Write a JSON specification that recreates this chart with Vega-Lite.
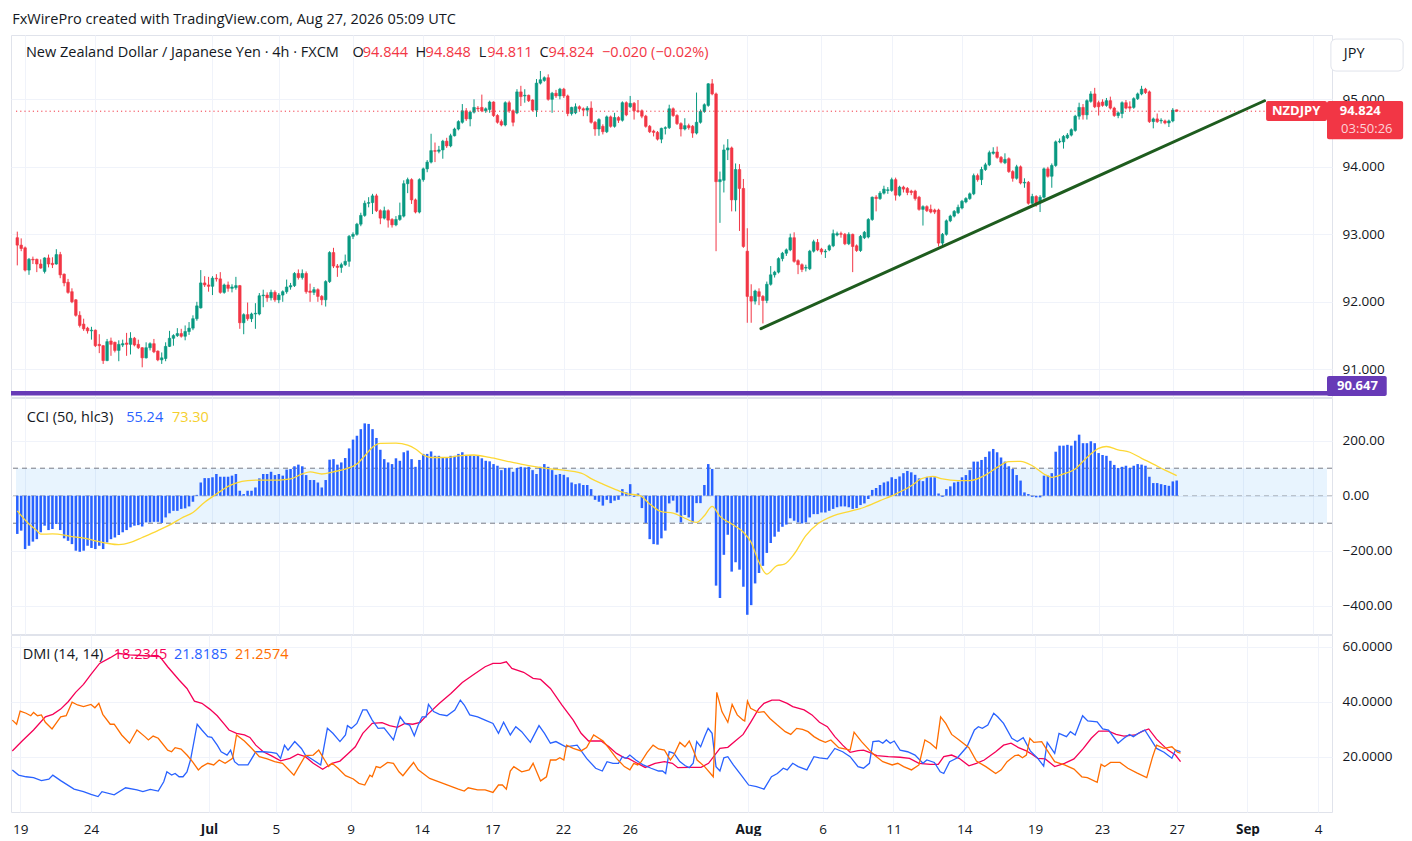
{
"$schema": "https://vega.github.io/schema/vega-lite/v6.json",
"background": "#ffffff",
"padding": {"left": 8, "top": 12, "right": 0, "bottom": 0},
"title": {"text": "FxWirePro created with TradingView.com, Aug 27, 2026 05:09 UTC", "anchor": "start", "font": "Open Sans", "fontSize": 14.5, "fontWeight": "normal", "color": "#131722", "offset": 7, "dx": 4},
"spacing": -1.5,
"config": {
  "view": {"stroke": "#E0E3EB"},
  "font": "Open Sans",
  "axis": {"gridColor": "#F0F3FA", "gridWidth": 1, "labelFont": "Open Sans", "labelFontSize": 13.5, "labelColor": "#131722", "ticks": false, "domain": false, "zindex": 0}
},
"datasets": {
"candles": [
{"i":0,"o":92.95,"h":93.04,"l":92.54,"c":92.84,"k":-139},
{"i":1,"o":92.84,"h":92.94,"l":92.75,"c":92.79,"k":-127},
{"i":2,"o":92.80,"h":92.82,"l":92.45,"c":92.47,"k":-194},
{"i":3,"o":92.47,"h":92.65,"l":92.40,"c":92.63,"k":-182},
{"i":4,"o":92.63,"h":92.67,"l":92.56,"c":92.62,"k":-167},
{"i":5,"o":92.63,"h":92.64,"l":92.44,"c":92.56,"k":-158},
{"i":6,"o":92.56,"h":92.63,"l":92.49,"c":92.50,"k":-133},
{"i":7,"o":92.45,"h":92.66,"l":92.42,"c":92.65,"k":-109},
{"i":8,"o":92.65,"h":92.70,"l":92.51,"c":92.56,"k":-125},
{"i":9,"o":92.57,"h":92.66,"l":92.50,"c":92.55,"k":-121},
{"i":10,"o":92.56,"h":92.78,"l":92.55,"c":92.70,"k":-103},
{"i":11,"o":92.70,"h":92.74,"l":92.35,"c":92.40,"k":-125},
{"i":12,"o":92.41,"h":92.42,"l":92.23,"c":92.28,"k":-155},
{"i":13,"o":92.29,"h":92.34,"l":92.12,"c":92.14,"k":-164},
{"i":14,"o":92.15,"h":92.20,"l":91.98,"c":92.00,"k":-176},
{"i":15,"o":92.03,"h":92.04,"l":91.78,"c":91.80,"k":-200},
{"i":16,"o":91.80,"h":91.86,"l":91.62,"c":91.65,"k":-204},
{"i":17,"o":91.67,"h":91.75,"l":91.57,"c":91.60,"k":-200},
{"i":18,"o":91.61,"h":91.63,"l":91.53,"c":91.57,"k":-182},
{"i":19,"o":91.57,"h":91.63,"l":91.44,"c":91.58,"k":-190},
{"i":20,"o":91.58,"h":91.59,"l":91.33,"c":91.35,"k":-194},
{"i":21,"o":91.37,"h":91.52,"l":91.24,"c":91.35,"k":-182},
{"i":22,"o":91.35,"h":91.36,"l":91.08,"c":91.13,"k":-194},
{"i":23,"o":91.13,"h":91.45,"l":91.12,"c":91.41,"k":-170},
{"i":24,"o":91.42,"h":91.47,"l":91.20,"c":91.37,"k":-158},
{"i":25,"o":91.40,"h":91.41,"l":91.25,"c":91.28,"k":-152},
{"i":26,"o":91.28,"h":91.43,"l":91.12,"c":91.37,"k":-143},
{"i":27,"o":91.36,"h":91.44,"l":91.33,"c":91.38,"k":-133},
{"i":28,"o":91.39,"h":91.54,"l":91.20,"c":91.37,"k":-125},
{"i":29,"o":91.37,"h":91.55,"l":91.22,"c":91.46,"k":-115},
{"i":30,"o":91.46,"h":91.48,"l":91.34,"c":91.36,"k":-109},
{"i":31,"o":91.37,"h":91.44,"l":91.30,"c":91.32,"k":-107},
{"i":32,"o":91.32,"h":91.33,"l":91.03,"c":91.17,"k":-112},
{"i":33,"o":91.17,"h":91.40,"l":91.16,"c":91.32,"k":-97},
{"i":34,"o":91.32,"h":91.40,"l":91.28,"c":91.38,"k":-97},
{"i":35,"o":91.38,"h":91.45,"l":91.24,"c":91.26,"k":-95},
{"i":36,"o":91.27,"h":91.28,"l":91.12,"c":91.14,"k":-95},
{"i":37,"o":91.14,"h":91.25,"l":91.08,"c":91.17,"k":-99},
{"i":38,"o":91.16,"h":91.40,"l":91.12,"c":91.34,"k":-79},
{"i":39,"o":91.34,"h":91.57,"l":91.33,"c":91.46,"k":-64},
{"i":40,"o":91.46,"h":91.52,"l":91.35,"c":91.50,"k":-55},
{"i":41,"o":91.50,"h":91.61,"l":91.48,"c":91.53,"k":-55},
{"i":42,"o":91.53,"h":91.60,"l":91.47,"c":91.49,"k":-48},
{"i":43,"o":91.49,"h":91.65,"l":91.43,"c":91.56,"k":-46},
{"i":44,"o":91.56,"h":91.70,"l":91.51,"c":91.61,"k":-39},
{"i":45,"o":91.61,"h":91.80,"l":91.58,"c":91.75,"k":-22},
{"i":46,"o":91.75,"h":92.00,"l":91.72,"c":91.94,"k":3},
{"i":47,"o":91.91,"h":92.47,"l":91.90,"c":92.28,"k":48},
{"i":48,"o":92.28,"h":92.38,"l":92.22,"c":92.25,"k":64},
{"i":49,"o":92.25,"h":92.37,"l":92.15,"c":92.23,"k":64},
{"i":50,"o":92.23,"h":92.38,"l":92.10,"c":92.35,"k":67},
{"i":51,"o":92.35,"h":92.41,"l":92.30,"c":92.34,"k":79},
{"i":52,"o":92.34,"h":92.44,"l":92.12,"c":92.14,"k":69},
{"i":53,"o":92.14,"h":92.27,"l":92.12,"c":92.25,"k":69},
{"i":54,"o":92.25,"h":92.30,"l":92.15,"c":92.20,"k":69},
{"i":55,"o":92.20,"h":92.26,"l":92.14,"c":92.22,"k":73},
{"i":56,"o":92.21,"h":92.37,"l":92.18,"c":92.24,"k":79},
{"i":57,"o":92.24,"h":92.25,"l":91.60,"c":91.69,"k":18},
{"i":58,"o":91.69,"h":91.83,"l":91.52,"c":91.81,"k":6},
{"i":59,"o":91.81,"h":91.99,"l":91.72,"c":91.75,"k":18},
{"i":60,"o":91.75,"h":91.84,"l":91.70,"c":91.82,"k":18},
{"i":61,"o":91.82,"h":91.98,"l":91.60,"c":91.83,"k":30},
{"i":62,"o":91.82,"h":92.13,"l":91.80,"c":92.09,"k":63},
{"i":63,"o":92.09,"h":92.18,"l":91.92,"c":92.10,"k":79},
{"i":64,"o":92.10,"h":92.14,"l":92.00,"c":92.06,"k":79},
{"i":65,"o":92.06,"h":92.18,"l":92.02,"c":92.14,"k":87},
{"i":66,"o":92.14,"h":92.17,"l":92.00,"c":92.03,"k":75},
{"i":67,"o":92.03,"h":92.13,"l":91.98,"c":92.10,"k":79},
{"i":68,"o":92.10,"h":92.17,"l":92.00,"c":92.15,"k":73},
{"i":69,"o":92.15,"h":92.33,"l":92.12,"c":92.22,"k":95},
{"i":70,"o":92.22,"h":92.28,"l":92.18,"c":92.24,"k":97},
{"i":71,"o":92.24,"h":92.44,"l":92.22,"c":92.42,"k":107},
{"i":72,"o":92.42,"h":92.48,"l":92.33,"c":92.36,"k":113},
{"i":73,"o":92.36,"h":92.48,"l":92.33,"c":92.42,"k":107},
{"i":74,"o":92.42,"h":92.45,"l":92.12,"c":92.15,"k":75},
{"i":75,"o":92.16,"h":92.27,"l":92.00,"c":92.14,"k":57},
{"i":76,"o":92.14,"h":92.22,"l":92.10,"c":92.18,"k":57},
{"i":77,"o":92.18,"h":92.20,"l":92.00,"c":92.08,"k":48},
{"i":78,"o":92.08,"h":92.10,"l":91.95,"c":92.03,"k":30},
{"i":79,"o":92.03,"h":92.32,"l":91.93,"c":92.30,"k":57},
{"i":80,"o":92.30,"h":92.75,"l":92.28,"c":92.73,"k":131},
{"i":81,"o":92.73,"h":92.80,"l":92.50,"c":92.53,"k":133},
{"i":82,"o":92.53,"h":92.56,"l":92.37,"c":92.51,"k":113},
{"i":83,"o":92.51,"h":92.58,"l":92.43,"c":92.55,"k":121},
{"i":84,"o":92.55,"h":92.70,"l":92.53,"c":92.60,"k":137},
{"i":85,"o":92.60,"h":92.99,"l":92.52,"c":92.97,"k":172},
{"i":86,"o":92.97,"h":93.03,"l":92.93,"c":93.00,"k":204},
{"i":87,"o":93.00,"h":93.17,"l":92.98,"c":93.15,"k":218},
{"i":88,"o":93.15,"h":93.32,"l":93.12,"c":93.28,"k":242},
{"i":89,"o":93.28,"h":93.50,"l":93.26,"c":93.46,"k":263},
{"i":90,"o":93.46,"h":93.55,"l":93.40,"c":93.47,"k":261},
{"i":91,"o":93.47,"h":93.60,"l":93.30,"c":93.57,"k":242},
{"i":92,"o":93.57,"h":93.60,"l":93.33,"c":93.35,"k":210},
{"i":93,"o":93.35,"h":93.37,"l":93.15,"c":93.24,"k":167},
{"i":94,"o":93.24,"h":93.41,"l":93.22,"c":93.35,"k":133},
{"i":95,"o":93.35,"h":93.37,"l":93.10,"c":93.21,"k":121},
{"i":96,"o":93.22,"h":93.24,"l":93.10,"c":93.14,"k":115},
{"i":97,"o":93.14,"h":93.27,"l":93.12,"c":93.22,"k":136},
{"i":98,"o":93.22,"h":93.47,"l":93.20,"c":93.28,"k":127},
{"i":99,"o":93.27,"h":93.80,"l":93.25,"c":93.75,"k":158},
{"i":100,"o":93.75,"h":93.84,"l":93.61,"c":93.81,"k":164},
{"i":101,"o":93.81,"h":93.83,"l":93.45,"c":93.51,"k":133},
{"i":102,"o":93.51,"h":93.53,"l":93.31,"c":93.33,"k":105},
{"i":103,"o":93.33,"h":93.83,"l":93.31,"c":93.81,"k":130},
{"i":104,"o":93.81,"h":93.99,"l":93.78,"c":93.97,"k":152},
{"i":105,"o":93.97,"h":94.10,"l":93.92,"c":94.07,"k":152},
{"i":106,"o":94.07,"h":94.49,"l":94.05,"c":94.24,"k":161},
{"i":107,"o":94.24,"h":94.36,"l":94.07,"c":94.23,"k":145},
{"i":108,"o":94.23,"h":94.31,"l":94.20,"c":94.25,"k":145},
{"i":109,"o":94.25,"h":94.40,"l":94.12,"c":94.38,"k":139},
{"i":110,"o":94.38,"h":94.43,"l":94.28,"c":94.31,"k":139},
{"i":111,"o":94.31,"h":94.49,"l":94.29,"c":94.46,"k":145},
{"i":112,"o":94.46,"h":94.58,"l":94.45,"c":94.56,"k":145},
{"i":113,"o":94.56,"h":94.69,"l":94.54,"c":94.67,"k":152},
{"i":114,"o":94.66,"h":94.93,"l":94.64,"c":94.83,"k":158},
{"i":115,"o":94.83,"h":94.87,"l":94.68,"c":94.71,"k":145},
{"i":116,"o":94.71,"h":94.83,"l":94.60,"c":94.81,"k":148},
{"i":117,"o":94.81,"h":95.00,"l":94.79,"c":94.88,"k":145},
{"i":118,"o":94.87,"h":94.90,"l":94.82,"c":94.86,"k":148},
{"i":119,"o":94.88,"h":95.07,"l":94.81,"c":94.83,"k":136},
{"i":120,"o":94.83,"h":94.88,"l":94.80,"c":94.86,"k":127},
{"i":121,"o":94.85,"h":94.98,"l":94.80,"c":94.96,"k":125},
{"i":122,"o":94.96,"h":94.97,"l":94.74,"c":94.76,"k":115},
{"i":123,"o":94.76,"h":94.78,"l":94.64,"c":94.66,"k":109},
{"i":124,"o":94.67,"h":94.70,"l":94.60,"c":94.62,"k":93},
{"i":125,"o":94.62,"h":94.97,"l":94.60,"c":94.95,"k":101},
{"i":126,"o":94.95,"h":94.98,"l":94.80,"c":94.83,"k":101},
{"i":127,"o":94.83,"h":94.85,"l":94.60,"c":94.66,"k":87},
{"i":128,"o":94.80,"h":95.15,"l":94.78,"c":95.11,"k":101},
{"i":129,"o":95.11,"h":95.20,"l":94.90,"c":95.04,"k":105},
{"i":130,"o":95.05,"h":95.15,"l":94.95,"c":95.06,"k":103},
{"i":131,"o":95.06,"h":95.07,"l":94.96,"c":94.98,"k":105},
{"i":132,"o":94.99,"h":95.00,"l":94.82,"c":94.84,"k":93},
{"i":133,"o":94.84,"h":95.30,"l":94.74,"c":95.24,"k":79},
{"i":134,"o":95.24,"h":95.42,"l":95.22,"c":95.29,"k":105},
{"i":135,"o":95.28,"h":95.34,"l":95.26,"c":95.32,"k":115},
{"i":136,"o":95.32,"h":95.37,"l":94.98,"c":95.00,"k":105},
{"i":137,"o":95.00,"h":95.11,"l":94.80,"c":95.09,"k":93},
{"i":138,"o":95.09,"h":95.14,"l":95.02,"c":95.05,"k":76},
{"i":139,"o":95.05,"h":95.17,"l":95.00,"c":95.15,"k":79},
{"i":140,"o":95.15,"h":95.17,"l":95.02,"c":95.05,"k":76},
{"i":141,"o":95.05,"h":95.07,"l":94.75,"c":94.79,"k":67},
{"i":142,"o":94.79,"h":94.89,"l":94.76,"c":94.88,"k":48},
{"i":143,"o":94.80,"h":94.94,"l":94.78,"c":94.89,"k":42},
{"i":144,"o":94.89,"h":94.91,"l":94.83,"c":94.86,"k":45},
{"i":145,"o":94.86,"h":94.88,"l":94.75,"c":94.84,"k":39},
{"i":146,"o":94.84,"h":94.90,"l":94.75,"c":94.87,"k":39},
{"i":147,"o":94.87,"h":94.97,"l":94.64,"c":94.66,"k":24},
{"i":148,"o":94.66,"h":94.68,"l":94.46,"c":94.56,"k":-15},
{"i":149,"o":94.56,"h":94.72,"l":94.46,"c":94.70,"k":-22},
{"i":150,"o":94.60,"h":94.63,"l":94.48,"c":94.52,"k":-36},
{"i":151,"o":94.52,"h":94.76,"l":94.50,"c":94.74,"k":-15},
{"i":152,"o":94.74,"h":94.76,"l":94.58,"c":94.60,"k":-27},
{"i":153,"o":94.60,"h":94.80,"l":94.58,"c":94.73,"k":-18},
{"i":154,"o":94.73,"h":94.75,"l":94.65,"c":94.69,"k":-15},
{"i":155,"o":94.69,"h":94.97,"l":94.67,"c":94.95,"k":24},
{"i":156,"o":94.95,"h":94.97,"l":94.75,"c":94.77,"k":12},
{"i":157,"o":94.89,"h":95.05,"l":94.87,"c":94.94,"k":42},
{"i":158,"o":94.94,"h":94.96,"l":94.70,"c":94.83,"k":-4},
{"i":159,"o":94.83,"h":94.99,"l":94.80,"c":94.82,"k":8},
{"i":160,"o":94.83,"h":94.85,"l":94.72,"c":94.75,"k":-45},
{"i":161,"o":94.75,"h":94.77,"l":94.58,"c":94.60,"k":-99},
{"i":162,"o":94.60,"h":94.62,"l":94.50,"c":94.52,"k":-158},
{"i":163,"o":94.53,"h":94.55,"l":94.45,"c":94.51,"k":-176},
{"i":164,"o":94.51,"h":94.53,"l":94.39,"c":94.41,"k":-178},
{"i":165,"o":94.41,"h":94.58,"l":94.35,"c":94.57,"k":-155},
{"i":166,"o":94.57,"h":94.60,"l":94.48,"c":94.58,"k":-127},
{"i":167,"o":94.58,"h":94.92,"l":94.56,"c":94.86,"k":-28},
{"i":168,"o":94.86,"h":94.88,"l":94.74,"c":94.76,"k":-18},
{"i":169,"o":94.76,"h":94.78,"l":94.62,"c":94.64,"k":-61},
{"i":170,"o":94.64,"h":94.66,"l":94.45,"c":94.56,"k":-97},
{"i":171,"o":94.56,"h":94.72,"l":94.54,"c":94.61,"k":-70},
{"i":172,"o":94.61,"h":94.64,"l":94.55,"c":94.58,"k":-79},
{"i":173,"o":94.60,"h":94.62,"l":94.43,"c":94.50,"k":-97},
{"i":174,"o":94.50,"h":95.10,"l":94.48,"c":94.66,"k":-27},
{"i":175,"o":94.66,"h":94.85,"l":94.64,"c":94.82,"k":-27},
{"i":176,"o":94.82,"h":94.94,"l":94.80,"c":94.92,"k":39},
{"i":177,"o":94.91,"h":95.24,"l":94.89,"c":95.23,"k":115},
{"i":178,"o":95.23,"h":95.30,"l":95.06,"c":95.08,"k":97},
{"i":179,"o":95.08,"h":95.10,"l":92.75,"c":93.78,"k":-327},
{"i":180,"o":93.78,"h":93.93,"l":93.17,"c":93.81,"k":-372},
{"i":181,"o":93.80,"h":94.33,"l":93.62,"c":94.25,"k":-215},
{"i":182,"o":94.25,"h":94.41,"l":94.10,"c":94.28,"k":-142},
{"i":183,"o":94.28,"h":94.30,"l":93.34,"c":93.51,"k":-276},
{"i":184,"o":93.51,"h":94.05,"l":93.34,"c":93.96,"k":-242},
{"i":185,"o":93.96,"h":94.04,"l":93.05,"c":93.68,"k":-269},
{"i":186,"o":93.68,"h":93.82,"l":92.80,"c":92.82,"k":-331},
{"i":187,"o":92.75,"h":93.09,"l":91.69,"c":92.08,"k":-433},
{"i":188,"o":92.08,"h":92.26,"l":91.69,"c":92.01,"k":-398},
{"i":189,"o":92.01,"h":92.18,"l":91.96,"c":92.16,"k":-319},
{"i":190,"o":92.15,"h":92.20,"l":91.95,"c":92.08,"k":-281},
{"i":191,"o":92.08,"h":92.10,"l":91.68,"c":92.02,"k":-255},
{"i":192,"o":92.02,"h":92.30,"l":91.98,"c":92.26,"k":-208},
{"i":193,"o":92.26,"h":92.53,"l":92.24,"c":92.40,"k":-172},
{"i":194,"o":92.40,"h":92.46,"l":92.36,"c":92.44,"k":-149},
{"i":195,"o":92.44,"h":92.66,"l":92.42,"c":92.64,"k":-131},
{"i":196,"o":92.64,"h":92.74,"l":92.60,"c":92.72,"k":-113},
{"i":197,"o":92.72,"h":92.79,"l":92.68,"c":92.77,"k":-105},
{"i":198,"o":92.77,"h":93.01,"l":92.75,"c":92.95,"k":-82},
{"i":199,"o":92.95,"h":93.03,"l":92.58,"c":92.60,"k":-91},
{"i":200,"o":92.61,"h":92.63,"l":92.41,"c":92.55,"k":-97},
{"i":201,"o":92.55,"h":92.57,"l":92.44,"c":92.48,"k":-101},
{"i":202,"o":92.50,"h":92.55,"l":92.45,"c":92.51,"k":-97},
{"i":203,"o":92.49,"h":92.77,"l":92.47,"c":92.75,"k":-79},
{"i":204,"o":92.75,"h":92.92,"l":92.73,"c":92.89,"k":-67},
{"i":205,"o":92.88,"h":92.93,"l":92.75,"c":92.77,"k":-67},
{"i":206,"o":92.78,"h":92.80,"l":92.70,"c":92.74,"k":-61},
{"i":207,"o":92.74,"h":92.78,"l":92.65,"c":92.75,"k":-61},
{"i":208,"o":92.77,"h":92.85,"l":92.75,"c":92.83,"k":-55},
{"i":209,"o":92.83,"h":93.07,"l":92.81,"c":93.01,"k":-48},
{"i":210,"o":92.99,"h":93.04,"l":92.97,"c":93.01,"k":-42},
{"i":211,"o":93.01,"h":93.04,"l":92.95,"c":93.00,"k":-39},
{"i":212,"o":93.00,"h":93.02,"l":92.84,"c":92.86,"k":-39},
{"i":213,"o":92.86,"h":93.03,"l":92.84,"c":93.00,"k":-42},
{"i":214,"o":93.00,"h":93.01,"l":92.44,"c":92.82,"k":-48},
{"i":215,"o":92.83,"h":92.85,"l":92.74,"c":92.76,"k":-45},
{"i":216,"o":92.76,"h":92.99,"l":92.74,"c":92.97,"k":-34},
{"i":217,"o":92.95,"h":93.05,"l":92.93,"c":93.03,"k":-28},
{"i":218,"o":92.96,"h":93.24,"l":92.94,"c":93.22,"k":-12},
{"i":219,"o":93.22,"h":93.56,"l":93.20,"c":93.55,"k":21},
{"i":220,"o":93.55,"h":93.58,"l":93.34,"c":93.53,"k":28},
{"i":221,"o":93.53,"h":93.64,"l":93.51,"c":93.61,"k":39},
{"i":222,"o":93.61,"h":93.72,"l":93.59,"c":93.67,"k":48},
{"i":223,"o":93.65,"h":93.70,"l":93.60,"c":93.66,"k":52},
{"i":224,"o":93.65,"h":93.84,"l":93.63,"c":93.81,"k":67},
{"i":225,"o":93.81,"h":93.84,"l":93.50,"c":93.58,"k":61},
{"i":226,"o":93.58,"h":93.72,"l":93.56,"c":93.70,"k":70},
{"i":227,"o":93.70,"h":93.72,"l":93.62,"c":93.67,"k":82},
{"i":228,"o":93.68,"h":93.70,"l":93.58,"c":93.62,"k":90},
{"i":229,"o":93.64,"h":93.66,"l":93.58,"c":93.62,"k":85},
{"i":230,"o":93.64,"h":93.66,"l":93.50,"c":93.53,"k":76},
{"i":231,"o":93.55,"h":93.57,"l":93.35,"c":93.37,"k":63},
{"i":232,"o":93.37,"h":93.43,"l":93.13,"c":93.41,"k":53},
{"i":233,"o":93.41,"h":93.43,"l":93.33,"c":93.35,"k":67},
{"i":234,"o":93.37,"h":93.44,"l":93.31,"c":93.33,"k":67},
{"i":235,"o":93.36,"h":93.38,"l":93.30,"c":93.33,"k":67},
{"i":236,"o":93.36,"h":93.38,"l":92.82,"c":92.87,"k":8},
{"i":237,"o":92.87,"h":93.02,"l":92.84,"c":93.00,"k":-4},
{"i":238,"o":93.00,"h":93.22,"l":92.98,"c":93.20,"k":24},
{"i":239,"o":93.20,"h":93.29,"l":93.18,"c":93.27,"k":34},
{"i":240,"o":93.27,"h":93.36,"l":93.25,"c":93.34,"k":48},
{"i":241,"o":93.32,"h":93.44,"l":93.30,"c":93.40,"k":51},
{"i":242,"o":93.39,"h":93.51,"l":93.37,"c":93.49,"k":67},
{"i":243,"o":93.48,"h":93.55,"l":93.46,"c":93.53,"k":75},
{"i":244,"o":93.53,"h":93.62,"l":93.51,"c":93.60,"k":93},
{"i":245,"o":93.60,"h":93.90,"l":93.58,"c":93.87,"k":124},
{"i":246,"o":93.87,"h":93.90,"l":93.78,"c":93.81,"k":124},
{"i":247,"o":93.81,"h":94.00,"l":93.73,"c":93.96,"k":130},
{"i":248,"o":93.96,"h":94.06,"l":93.94,"c":94.03,"k":141},
{"i":249,"o":94.03,"h":94.24,"l":94.01,"c":94.21,"k":161},
{"i":250,"o":94.20,"h":94.29,"l":94.18,"c":94.22,"k":170},
{"i":251,"o":94.22,"h":94.30,"l":94.12,"c":94.14,"k":158},
{"i":252,"o":94.14,"h":94.16,"l":94.05,"c":94.07,"k":139},
{"i":253,"o":94.06,"h":94.20,"l":94.04,"c":94.11,"k":124},
{"i":254,"o":94.12,"h":94.14,"l":93.91,"c":93.93,"k":107},
{"i":255,"o":93.93,"h":93.95,"l":93.78,"c":93.83,"k":97},
{"i":256,"o":93.83,"h":94.03,"l":93.81,"c":94.00,"k":75},
{"i":257,"o":94.00,"h":94.02,"l":93.74,"c":93.76,"k":55},
{"i":258,"o":93.76,"h":93.83,"l":93.69,"c":93.77,"k":12},
{"i":259,"o":93.77,"h":93.79,"l":93.44,"c":93.46,"k":6},
{"i":260,"o":93.46,"h":93.60,"l":93.43,"c":93.56,"k":-4},
{"i":261,"o":93.56,"h":93.58,"l":93.41,"c":93.46,"k":-6},
{"i":262,"o":93.48,"h":93.58,"l":93.33,"c":93.55,"k":-6},
{"i":263,"o":93.55,"h":93.99,"l":93.53,"c":93.97,"k":73},
{"i":264,"o":93.97,"h":94.00,"l":93.84,"c":93.86,"k":73},
{"i":265,"o":93.86,"h":94.05,"l":93.69,"c":94.02,"k":82},
{"i":266,"o":94.02,"h":94.39,"l":94.00,"c":94.37,"k":160},
{"i":267,"o":94.37,"h":94.42,"l":94.35,"c":94.38,"k":182},
{"i":268,"o":94.37,"h":94.47,"l":94.27,"c":94.45,"k":182},
{"i":269,"o":94.43,"h":94.50,"l":94.41,"c":94.47,"k":185},
{"i":270,"o":94.47,"h":94.57,"l":94.45,"c":94.55,"k":182},
{"i":271,"o":94.54,"h":94.77,"l":94.52,"c":94.75,"k":200},
{"i":272,"o":94.75,"h":94.95,"l":94.70,"c":94.88,"k":222},
{"i":273,"o":94.88,"h":94.93,"l":94.70,"c":94.77,"k":191},
{"i":274,"o":94.77,"h":95.00,"l":94.70,"c":94.98,"k":191},
{"i":275,"o":94.97,"h":95.12,"l":94.95,"c":95.08,"k":198},
{"i":276,"o":95.08,"h":95.17,"l":94.87,"c":94.89,"k":191},
{"i":277,"o":94.95,"h":94.98,"l":94.76,"c":94.89,"k":155},
{"i":278,"o":94.96,"h":95.00,"l":94.89,"c":94.91,"k":148},
{"i":279,"o":94.91,"h":95.02,"l":94.89,"c":94.98,"k":145},
{"i":280,"o":94.98,"h":95.04,"l":94.85,"c":94.87,"k":127},
{"i":281,"o":94.87,"h":94.89,"l":94.74,"c":94.76,"k":112},
{"i":282,"o":94.76,"h":94.82,"l":94.72,"c":94.80,"k":101},
{"i":283,"o":94.79,"h":94.97,"l":94.72,"c":94.95,"k":105},
{"i":284,"o":94.95,"h":94.99,"l":94.85,"c":94.87,"k":109},
{"i":285,"o":94.89,"h":94.97,"l":94.83,"c":94.87,"k":101},
{"i":286,"o":94.88,"h":95.03,"l":94.86,"c":95.01,"k":109},
{"i":287,"o":95.01,"h":95.10,"l":94.99,"c":95.08,"k":115},
{"i":288,"o":95.08,"h":95.20,"l":95.06,"c":95.15,"k":113},
{"i":289,"o":95.15,"h":95.17,"l":95.08,"c":95.10,"k":109},
{"i":290,"o":95.11,"h":95.13,"l":94.65,"c":94.67,"k":69},
{"i":291,"o":94.67,"h":94.73,"l":94.57,"c":94.71,"k":46},
{"i":292,"o":94.71,"h":94.79,"l":94.65,"c":94.67,"k":46},
{"i":293,"o":94.68,"h":94.72,"l":94.64,"c":94.69,"k":42},
{"i":294,"o":94.68,"h":94.70,"l":94.63,"c":94.65,"k":39},
{"i":295,"o":94.65,"h":94.70,"l":94.59,"c":94.68,"k":36},
{"i":296,"o":94.68,"h":94.87,"l":94.66,"c":94.84,"k":52},
{"i":297,"o":94.844,"h":94.848,"l":94.811,"c":94.824,"k":55.24}
],
"ma": [
{"i":0,"v":-55},{"i":3,"v":-103},{"i":5,"v":-127},{"i":6,"v":-140},{"i":9,"v":-139},{"i":12,"v":-143},{"i":14,"v":-149},{"i":17,"v":-154},{"i":20,"v":-164},{"i":23,"v":-173},{"i":26,"v":-178},{"i":29,"v":-170},{"i":32,"v":-152},{"i":36,"v":-127},{"i":40,"v":-99},{"i":42,"v":-82},{"i":45,"v":-61},{"i":48,"v":-24},{"i":51,"v":6},{"i":54,"v":34},{"i":56,"v":46},{"i":59,"v":55},{"i":63,"v":57},{"i":67,"v":57},{"i":70,"v":61},{"i":73,"v":79},{"i":75,"v":87},{"i":78,"v":79},{"i":81,"v":87},{"i":84,"v":97},{"i":87,"v":115},{"i":89,"v":145},{"i":91,"v":176},{"i":93,"v":190},{"i":97,"v":191},{"i":100,"v":184},{"i":102,"v":170},{"i":104,"v":148},{"i":106,"v":139},{"i":110,"v":139},{"i":113,"v":145},{"i":117,"v":148},{"i":121,"v":139},{"i":125,"v":127},{"i":129,"v":115},{"i":133,"v":105},{"i":137,"v":97},{"i":141,"v":91},{"i":145,"v":79},{"i":147,"v":62},{"i":150,"v":42},{"i":153,"v":24},{"i":156,"v":8},{"i":159.5,"v":0},{"i":162,"v":-30},{"i":165,"v":-58},{"i":168,"v":-63},{"i":171,"v":-82},{"i":174,"v":-97},{"i":176,"v":-73},{"i":178,"v":-39},{"i":180,"v":-75},{"i":183,"v":-103},{"i":186,"v":-133},{"i":188,"v":-170},{"i":190,"v":-242},{"i":192,"v":-285},{"i":194.5,"v":-255},{"i":196.5,"v":-249},{"i":199,"v":-212},{"i":202,"v":-145},{"i":205,"v":-103},{"i":209,"v":-73},{"i":213,"v":-58},{"i":217,"v":-42},{"i":221,"v":-18},{"i":225,"v":6},{"i":229,"v":36},{"i":231.5,"v":61},{"i":234.5,"v":70},{"i":237,"v":61},{"i":241,"v":55},{"i":244,"v":55},{"i":248,"v":75},{"i":251,"v":103},{"i":254,"v":124},{"i":257,"v":125},{"i":260,"v":109},{"i":263,"v":79},{"i":265,"v":67},{"i":268,"v":79},{"i":271,"v":97},{"i":274,"v":139},{"i":277,"v":172},{"i":279,"v":179},{"i":282,"v":167},{"i":285,"v":158},{"i":288,"v":136},{"i":291,"v":115},{"i":294,"v":93},{"i":297,"v":73.3}
],
"dmi": [
{"s":"a","i":0,"v":22.1},{"s":"a","i":2.5,"v":25.7},{"s":"a","i":5.4,"v":29.7},{"s":"a","i":8.4,"v":34.5},{"s":"a","i":10.3,"v":35.4},{"s":"a","i":12.3,"v":37.3},{"s":"a","i":14.2,"v":40.0},{"s":"a","i":16.1,"v":43.4},{"s":"a","i":18.1,"v":46.3},{"s":"a","i":20,"v":49.9},{"s":"a","i":22.2,"v":53.9},{"s":"a","i":24.9,"v":56.0},{"s":"a","i":26.8,"v":57.6},{"s":"a","i":29.8,"v":57.0},{"s":"a","i":33.7,"v":56.7},{"s":"a","i":37.5,"v":56.4},{"s":"a","i":39.5,"v":52.7},{"s":"a","i":42.4,"v":47.9},{"s":"a","i":44.4,"v":44.8},{"s":"a","i":46.3,"v":40.2},{"s":"a","i":48.2,"v":39.4},{"s":"a","i":50.2,"v":37.3},{"s":"a","i":52.1,"v":34.9},{"s":"a","i":54.1,"v":31.5},{"s":"a","i":55.1,"v":29.7},{"s":"a","i":57,"v":28.5},{"s":"a","i":59,"v":27.9},{"s":"a","i":60.4,"v":27.0},{"s":"a","i":61.9,"v":24.2},{"s":"a","i":63.8,"v":21.8},{"s":"a","i":65.8,"v":20.4},{"s":"a","i":68.2,"v":18.5},{"s":"a","i":70.6,"v":19.4},{"s":"a","i":72.6,"v":20.9},{"s":"a","i":74.5,"v":20.0},{"s":"a","i":76.5,"v":17.6},{"s":"a","i":78.9,"v":15.4},{"s":"a","i":81.3,"v":17.6},{"s":"a","i":83.3,"v":18.4},{"s":"a","i":85.2,"v":20.9},{"s":"a","i":87.2,"v":23.6},{"s":"a","i":89.1,"v":28.5},{"s":"a","i":91.5,"v":32.1},{"s":"a","i":94,"v":32.4},{"s":"a","i":95.9,"v":31.3},{"s":"a","i":97.9,"v":30.7},{"s":"a","i":99.8,"v":32.1},{"s":"a","i":101.8,"v":31.8},{"s":"a","i":103.7,"v":32.5},{"s":"a","i":105.6,"v":35.4},{"s":"a","i":108.6,"v":39.4},{"s":"a","i":111.5,"v":43.0},{"s":"a","i":114.4,"v":47.0},{"s":"a","i":117.3,"v":49.9},{"s":"a","i":120.2,"v":52.7},{"s":"a","i":122.2,"v":53.9},{"s":"a","i":124.1,"v":53.9},{"s":"a","i":125.6,"v":54.5},{"s":"a","i":127,"v":52.1},{"s":"a","i":130,"v":50.7},{"s":"a","i":132.4,"v":48.5},{"s":"a","i":134.3,"v":48.1},{"s":"a","i":136.8,"v":44.8},{"s":"a","i":139.7,"v":38.8},{"s":"a","i":142.6,"v":33.3},{"s":"a","i":144.6,"v":28.5},{"s":"a","i":146.5,"v":25.7},{"s":"a","i":149.7,"v":25.7},{"s":"a","i":151.7,"v":23.6},{"s":"a","i":153.6,"v":21.2},{"s":"a","i":155.6,"v":19.6},{"s":"a","i":156.6,"v":19.4},{"s":"a","i":158.5,"v":17.9},{"s":"a","i":160.9,"v":16.1},{"s":"a","i":163.4,"v":17.6},{"s":"a","i":165.8,"v":18.2},{"s":"a","i":167.8,"v":17.6},{"s":"a","i":169.2,"v":16.0},{"s":"a","i":172.1,"v":16.1},{"s":"a","i":175.1,"v":16.1},{"s":"a","i":177,"v":17.6},{"s":"a","i":179.9,"v":23.0},{"s":"a","i":181.9,"v":23.4},{"s":"a","i":183.8,"v":25.7},{"s":"a","i":185.8,"v":28.1},{"s":"a","i":187.7,"v":32.5},{"s":"a","i":189.7,"v":37.3},{"s":"a","i":191.1,"v":39.4},{"s":"a","i":193.1,"v":40.6},{"s":"a","i":195,"v":40.6},{"s":"a","i":197,"v":39.4},{"s":"a","i":198.4,"v":38.2},{"s":"a","i":201.3,"v":37.0},{"s":"a","i":203.3,"v":35.2},{"s":"a","i":205.2,"v":32.5},{"s":"a","i":207.2,"v":30.9},{"s":"a","i":209.1,"v":27.3},{"s":"a","i":211.1,"v":24.2},{"s":"a","i":213,"v":21.6},{"s":"a","i":215,"v":22.2},{"s":"a","i":216.4,"v":22.4},{"s":"a","i":217.9,"v":21.6},{"s":"a","i":219.8,"v":20.4},{"s":"a","i":222.7,"v":20.0},{"s":"a","i":225.7,"v":19.8},{"s":"a","i":228.1,"v":19.4},{"s":"a","i":230.5,"v":17.6},{"s":"a","i":233.4,"v":17.2},{"s":"a","i":235.4,"v":17.2},{"s":"a","i":236.8,"v":20.0},{"s":"a","i":238.8,"v":20.6},{"s":"a","i":240.7,"v":19.4},{"s":"a","i":243.2,"v":16.7},{"s":"a","i":245.1,"v":17.6},{"s":"a","i":247.1,"v":18.8},{"s":"a","i":250,"v":21.8},{"s":"a","i":252,"v":24.2},{"s":"a","i":253.9,"v":24.9},{"s":"a","i":255.8,"v":23.3},{"s":"a","i":257.8,"v":22.1},{"s":"a","i":259.2,"v":20.9},{"s":"a","i":260.7,"v":19.4},{"s":"a","i":262.6,"v":19.2},{"s":"a","i":265,"v":16.4},{"s":"a","i":267.5,"v":17.6},{"s":"a","i":269.9,"v":19.2},{"s":"a","i":272.3,"v":23.0},{"s":"a","i":274.3,"v":26.7},{"s":"a","i":276.2,"v":29.3},{"s":"a","i":278.7,"v":29.3},{"s":"a","i":280.6,"v":28.1},{"s":"a","i":282.6,"v":27.5},{"s":"a","i":285.5,"v":27.9},{"s":"a","i":287.4,"v":29.3},{"s":"a","i":288.9,"v":30.1},{"s":"a","i":290.9,"v":26.4},{"s":"a","i":293.8,"v":22.4},{"s":"a","i":295.7,"v":20.6},{"s":"a","i":297,"v":18.23},
{"s":"p","i":0,"v":15.2},{"s":"p","i":1.6,"v":13.3},{"s":"p","i":3.5,"v":12.7},{"s":"p","i":5.4,"v":12.4},{"s":"p","i":7.4,"v":11.3},{"s":"p","i":9.3,"v":11.8},{"s":"p","i":10.3,"v":13.3},{"s":"p","i":12.3,"v":11.3},{"s":"p","i":15.7,"v":8.2},{"s":"p","i":18.1,"v":7.3},{"s":"p","i":20,"v":6.3},{"s":"p","i":21.8,"v":5.5},{"s":"p","i":22.8,"v":7.3},{"s":"p","i":25.9,"v":6.1},{"s":"p","i":28.8,"v":8.7},{"s":"p","i":31.7,"v":7.9},{"s":"p","i":33.2,"v":7.3},{"s":"p","i":35.1,"v":8.1},{"s":"p","i":37.1,"v":7.5},{"s":"p","i":38.5,"v":10.9},{"s":"p","i":39.3,"v":14.5},{"s":"p","i":40.5,"v":13.3},{"s":"p","i":41.4,"v":13.9},{"s":"p","i":42.4,"v":12.7},{"s":"p","i":43.4,"v":12.7},{"s":"p","i":44.4,"v":14.5},{"s":"p","i":45.3,"v":18.8},{"s":"p","i":47,"v":31.8},{"s":"p","i":48.2,"v":29.7},{"s":"p","i":49.7,"v":27.3},{"s":"p","i":50.7,"v":27.0},{"s":"p","i":52.1,"v":24.2},{"s":"p","i":53.1,"v":21.8},{"s":"p","i":54.6,"v":20.6},{"s":"p","i":55.5,"v":22.4},{"s":"p","i":56.5,"v":18.2},{"s":"p","i":57.5,"v":17.0},{"s":"p","i":59.9,"v":17.0},{"s":"p","i":61.9,"v":21.8},{"s":"p","i":63.8,"v":21.8},{"s":"p","i":65.8,"v":21.6},{"s":"p","i":67.2,"v":21.2},{"s":"p","i":68.2,"v":19.4},{"s":"p","i":69.2,"v":24.2},{"s":"p","i":70.1,"v":22.4},{"s":"p","i":71.8,"v":25.5},{"s":"p","i":73.5,"v":23.0},{"s":"p","i":74.5,"v":20.6},{"s":"p","i":76.5,"v":18.8},{"s":"p","i":78.4,"v":17.0},{"s":"p","i":80.1,"v":30.3},{"s":"p","i":81.5,"v":28.5},{"s":"p","i":83.3,"v":25.5},{"s":"p","i":84.7,"v":27.9},{"s":"p","i":85.2,"v":31.3},{"s":"p","i":86.2,"v":30.3},{"s":"p","i":87.6,"v":32.1},{"s":"p","i":89.1,"v":37.0},{"s":"p","i":90.1,"v":37.0},{"s":"p","i":91.5,"v":33.3},{"s":"p","i":93,"v":30.3},{"s":"p","i":94.5,"v":30.5},{"s":"p","i":96.9,"v":26.1},{"s":"p","i":98.6,"v":34.5},{"s":"p","i":99.8,"v":32.1},{"s":"p","i":101,"v":31.5},{"s":"p","i":102.2,"v":27.6},{"s":"p","i":103.2,"v":31.5},{"s":"p","i":104.2,"v":34.5},{"s":"p","i":105.2,"v":34.5},{"s":"p","i":105.8,"v":39.0},{"s":"p","i":107.1,"v":36.4},{"s":"p","i":108.6,"v":35.4},{"s":"p","i":110.5,"v":34.9},{"s":"p","i":112.5,"v":37.0},{"s":"p","i":113.9,"v":40.6},{"s":"p","i":114.9,"v":38.8},{"s":"p","i":116.3,"v":35.2},{"s":"p","i":118.3,"v":34.5},{"s":"p","i":120.2,"v":33.3},{"s":"p","i":122.2,"v":32.1},{"s":"p","i":123.6,"v":28.5},{"s":"p","i":124.9,"v":32.5},{"s":"p","i":126.6,"v":27.9},{"s":"p","i":128,"v":30.9},{"s":"p","i":129.5,"v":29.1},{"s":"p","i":131.7,"v":25.2},{"s":"p","i":133.9,"v":31.3},{"s":"p","i":135.3,"v":28.5},{"s":"p","i":136.8,"v":24.9},{"s":"p","i":138.2,"v":25.5},{"s":"p","i":140.7,"v":23.6},{"s":"p","i":143.6,"v":24.2},{"s":"p","i":146,"v":19.4},{"s":"p","i":148.3,"v":15.8},{"s":"p","i":150,"v":14.8},{"s":"p","i":151.2,"v":18.2},{"s":"p","i":152.7,"v":17.6},{"s":"p","i":154.1,"v":17.6},{"s":"p","i":155.1,"v":20.0},{"s":"p","i":156.1,"v":19.4},{"s":"p","i":157,"v":20.6},{"s":"p","i":158.5,"v":18.8},{"s":"p","i":160.4,"v":17.0},{"s":"p","i":162.4,"v":15.8},{"s":"p","i":164.3,"v":14.8},{"s":"p","i":165.3,"v":14.8},{"s":"p","i":166.1,"v":13.9},{"s":"p","i":167,"v":21.8},{"s":"p","i":168.2,"v":21.2},{"s":"p","i":169.7,"v":18.2},{"s":"p","i":171.1,"v":16.7},{"s":"p","i":172.1,"v":16.0},{"s":"p","i":173.1,"v":17.6},{"s":"p","i":174,"v":25.5},{"s":"p","i":175,"v":23.6},{"s":"p","i":176,"v":27.3},{"s":"p","i":176.9,"v":30.3},{"s":"p","i":177.9,"v":28.5},{"s":"p","i":178.9,"v":16.4},{"s":"p","i":179.9,"v":14.8},{"s":"p","i":180.9,"v":19.6},{"s":"p","i":181.9,"v":20.0},{"s":"p","i":183.3,"v":17.0},{"s":"p","i":185.3,"v":13.3},{"s":"p","i":187.2,"v":9.7},{"s":"p","i":189.2,"v":9.1},{"s":"p","i":191.1,"v":8.2},{"s":"p","i":193,"v":12.7},{"s":"p","i":194.5,"v":13.9},{"s":"p","i":196,"v":15.8},{"s":"p","i":197,"v":15.2},{"s":"p","i":198.4,"v":17.6},{"s":"p","i":199.8,"v":16.4},{"s":"p","i":202,"v":15.2},{"s":"p","i":203.8,"v":20.0},{"s":"p","i":205.2,"v":19.6},{"s":"p","i":207.2,"v":19.2},{"s":"p","i":209.1,"v":23.0},{"s":"p","i":211.1,"v":21.8},{"s":"p","i":213,"v":20.0},{"s":"p","i":215,"v":16.4},{"s":"p","i":216.4,"v":15.8},{"s":"p","i":217.9,"v":17.6},{"s":"p","i":218.8,"v":25.5},{"s":"p","i":220.3,"v":25.7},{"s":"p","i":221.3,"v":24.9},{"s":"p","i":222.2,"v":26.1},{"s":"p","i":223.2,"v":24.9},{"s":"p","i":224.2,"v":25.7},{"s":"p","i":225.7,"v":22.4},{"s":"p","i":227.6,"v":21.8},{"s":"p","i":229.5,"v":20.6},{"s":"p","i":231.5,"v":17.6},{"s":"p","i":232.5,"v":18.8},{"s":"p","i":234.4,"v":17.9},{"s":"p","i":235.9,"v":14.5},{"s":"p","i":236.8,"v":13.9},{"s":"p","i":238.3,"v":18.2},{"s":"p","i":240.3,"v":19.6},{"s":"p","i":242.7,"v":23.6},{"s":"p","i":244.6,"v":29.7},{"s":"p","i":245.6,"v":30.9},{"s":"p","i":246.6,"v":30.3},{"s":"p","i":248,"v":31.5},{"s":"p","i":249.5,"v":35.8},{"s":"p","i":250.5,"v":34.5},{"s":"p","i":252,"v":32.1},{"s":"p","i":254.1,"v":26.7},{"s":"p","i":255.5,"v":25.5},{"s":"p","i":257,"v":26.9},{"s":"p","i":258.8,"v":22.1},{"s":"p","i":260.7,"v":19.4},{"s":"p","i":262.2,"v":16.6},{"s":"p","i":263.1,"v":25.2},{"s":"p","i":265,"v":21.2},{"s":"p","i":266.1,"v":28.5},{"s":"p","i":268,"v":27.3},{"s":"p","i":269,"v":29.1},{"s":"p","i":270.2,"v":27.9},{"s":"p","i":272.1,"v":34.9},{"s":"p","i":273.4,"v":33.0},{"s":"p","i":275.8,"v":32.7},{"s":"p","i":277.2,"v":30.1},{"s":"p","i":278.7,"v":29.7},{"s":"p","i":281.1,"v":24.9},{"s":"p","i":282.6,"v":26.7},{"s":"p","i":284,"v":28.1},{"s":"p","i":285,"v":27.3},{"s":"p","i":286.5,"v":28.7},{"s":"p","i":287.9,"v":29.7},{"s":"p","i":289.4,"v":26.4},{"s":"p","i":290.9,"v":23.0},{"s":"p","i":292.8,"v":21.6},{"s":"p","i":294.8,"v":19.4},{"s":"p","i":295.7,"v":22.4},{"s":"p","i":297,"v":21.82},
{"s":"m","i":0,"v":33.3},{"s":"m","i":1.1,"v":31.8},{"s":"m","i":2,"v":36.6},{"s":"m","i":3.5,"v":35.8},{"s":"m","i":4.7,"v":34.9},{"s":"m","i":5.4,"v":36.1},{"s":"m","i":6.4,"v":34.9},{"s":"m","i":7.4,"v":35.2},{"s":"m","i":8.4,"v":32.5},{"s":"m","i":10.1,"v":30.1},{"s":"m","i":11.3,"v":32.5},{"s":"m","i":12.3,"v":34.5},{"s":"m","i":13.7,"v":34.9},{"s":"m","i":15.2,"v":39.8},{"s":"m","i":16.6,"v":38.8},{"s":"m","i":18.1,"v":38.2},{"s":"m","i":20,"v":39.0},{"s":"m","i":21,"v":37.8},{"s":"m","i":22,"v":39.4},{"s":"m","i":23,"v":35.4},{"s":"m","i":24.9,"v":31.8},{"s":"m","i":25.9,"v":31.8},{"s":"m","i":27.8,"v":27.9},{"s":"m","i":29.8,"v":24.9},{"s":"m","i":31.7,"v":29.7},{"s":"m","i":33.7,"v":27.3},{"s":"m","i":34.6,"v":26.1},{"s":"m","i":35.8,"v":27.5},{"s":"m","i":37.1,"v":26.7},{"s":"m","i":39.5,"v":22.4},{"s":"m","i":40.5,"v":21.8},{"s":"m","i":41.4,"v":23.3},{"s":"m","i":42.9,"v":22.8},{"s":"m","i":44.4,"v":20.6},{"s":"m","i":45.8,"v":18.2},{"s":"m","i":47.3,"v":15.2},{"s":"m","i":48.2,"v":16.4},{"s":"m","i":49.7,"v":17.6},{"s":"m","i":51.2,"v":17.0},{"s":"m","i":52.6,"v":18.8},{"s":"m","i":54.1,"v":17.6},{"s":"m","i":56,"v":19.4},{"s":"m","i":57,"v":27.9},{"s":"m","i":59,"v":25.7},{"s":"m","i":60.9,"v":23.0},{"s":"m","i":62.8,"v":20.0},{"s":"m","i":64.8,"v":19.2},{"s":"m","i":66.7,"v":18.2},{"s":"m","i":68.7,"v":17.6},{"s":"m","i":71.6,"v":13.3},{"s":"m","i":74.5,"v":20.4},{"s":"m","i":76.5,"v":20.6},{"s":"m","i":77.9,"v":22.4},{"s":"m","i":79.4,"v":18.8},{"s":"m","i":80.4,"v":16.4},{"s":"m","i":81.3,"v":17.6},{"s":"m","i":82.8,"v":15.8},{"s":"m","i":84.7,"v":13.1},{"s":"m","i":86.7,"v":11.9},{"s":"m","i":88.1,"v":10.3},{"s":"m","i":89.6,"v":9.7},{"s":"m","i":90.9,"v":13.3},{"s":"m","i":91.5,"v":12.7},{"s":"m","i":92.5,"v":16.4},{"s":"m","i":93.5,"v":16.0},{"s":"m","i":95.4,"v":17.9},{"s":"m","i":96.9,"v":17.6},{"s":"m","i":98.3,"v":14.5},{"s":"m","i":99.3,"v":13.1},{"s":"m","i":100.8,"v":15.8},{"s":"m","i":102,"v":17.9},{"s":"m","i":103.2,"v":15.2},{"s":"m","i":106.1,"v":12.1},{"s":"m","i":109.5,"v":10.3},{"s":"m","i":113.4,"v":8.2},{"s":"m","i":114.9,"v":7.5},{"s":"m","i":115.9,"v":8.7},{"s":"m","i":118.3,"v":7.9},{"s":"m","i":120.2,"v":7.9},{"s":"m","i":122.2,"v":7.0},{"s":"m","i":123.6,"v":9.7},{"s":"m","i":124.6,"v":9.7},{"s":"m","i":125.6,"v":8.2},{"s":"m","i":126.6,"v":14.8},{"s":"m","i":127.5,"v":16.4},{"s":"m","i":129.5,"v":14.5},{"s":"m","i":131.4,"v":15.2},{"s":"m","i":132.4,"v":17.6},{"s":"m","i":134.3,"v":11.2},{"s":"m","i":135.8,"v":12.7},{"s":"m","i":136.8,"v":18.8},{"s":"m","i":138.2,"v":18.8},{"s":"m","i":139.2,"v":19.6},{"s":"m","i":140.2,"v":18.8},{"s":"m","i":140.9,"v":24.2},{"s":"m","i":142.6,"v":23.0},{"s":"m","i":144.6,"v":22.1},{"s":"m","i":146,"v":23.3},{"s":"m","i":147.8,"v":27.9},{"s":"m","i":150.2,"v":25.7},{"s":"m","i":151.7,"v":23.0},{"s":"m","i":153.6,"v":19.4},{"s":"m","i":155.6,"v":16.4},{"s":"m","i":157,"v":15.2},{"s":"m","i":158,"v":17.6},{"s":"m","i":159,"v":17.0},{"s":"m","i":159.9,"v":18.2},{"s":"m","i":161.4,"v":21.6},{"s":"m","i":162.9,"v":24.2},{"s":"m","i":164.3,"v":22.8},{"s":"m","i":165.8,"v":22.4},{"s":"m","i":167.3,"v":18.8},{"s":"m","i":168.2,"v":20.6},{"s":"m","i":169.7,"v":25.2},{"s":"m","i":171,"v":23.6},{"s":"m","i":172.1,"v":25.7},{"s":"m","i":173.1,"v":22.4},{"s":"m","i":174.1,"v":18.8},{"s":"m","i":176,"v":16.4},{"s":"m","i":178.2,"v":12.7},{"s":"m","i":179.1,"v":43.4},{"s":"m","i":180.4,"v":36.4},{"s":"m","i":181.9,"v":32.5},{"s":"m","i":183,"v":39.0},{"s":"m","i":184.3,"v":35.2},{"s":"m","i":185.8,"v":33.3},{"s":"m","i":186.2,"v":33.0},{"s":"m","i":186.9,"v":40.2},{"s":"m","i":187.7,"v":37.6},{"s":"m","i":189.7,"v":36.1},{"s":"m","i":191.1,"v":36.4},{"s":"m","i":192.6,"v":33.9},{"s":"m","i":194.5,"v":31.5},{"s":"m","i":196.5,"v":29.1},{"s":"m","i":197.9,"v":28.1},{"s":"m","i":199.4,"v":30.3},{"s":"m","i":200.9,"v":29.9},{"s":"m","i":202.3,"v":29.1},{"s":"m","i":203.8,"v":27.3},{"s":"m","i":205.2,"v":26.1},{"s":"m","i":206.7,"v":25.2},{"s":"m","i":208.1,"v":26.1},{"s":"m","i":210.1,"v":23.3},{"s":"m","i":213,"v":22.4},{"s":"m","i":214,"v":28.9},{"s":"m","i":215.9,"v":25.5},{"s":"m","i":217.9,"v":22.4},{"s":"m","i":219.3,"v":20.4},{"s":"m","i":221.3,"v":18.2},{"s":"m","i":223.7,"v":17.0},{"s":"m","i":225.1,"v":17.6},{"s":"m","i":226.6,"v":16.4},{"s":"m","i":228.6,"v":15.2},{"s":"m","i":230.5,"v":17.0},{"s":"m","i":232,"v":26.1},{"s":"m","i":233.4,"v":24.9},{"s":"m","i":234.9,"v":23.0},{"s":"m","i":236,"v":34.5},{"s":"m","i":237.3,"v":32.1},{"s":"m","i":238.8,"v":28.1},{"s":"m","i":240.7,"v":26.1},{"s":"m","i":243.2,"v":23.3},{"s":"m","i":245.1,"v":18.4},{"s":"m","i":247.5,"v":16.4},{"s":"m","i":250,"v":13.9},{"s":"m","i":251.4,"v":15.2},{"s":"m","i":252.9,"v":18.2},{"s":"m","i":254.9,"v":20.4},{"s":"m","i":255.8,"v":20.6},{"s":"m","i":256.8,"v":19.6},{"s":"m","i":257.8,"v":20.6},{"s":"m","i":258.7,"v":26.7},{"s":"m","i":259.7,"v":25.2},{"s":"m","i":261.7,"v":25.5},{"s":"m","i":263.6,"v":21.2},{"s":"m","i":265,"v":18.2},{"s":"m","i":267.5,"v":17.0},{"s":"m","i":269.9,"v":15.5},{"s":"m","i":271.9,"v":12.7},{"s":"m","i":273.3,"v":12.4},{"s":"m","i":275.8,"v":10.7},{"s":"m","i":276.8,"v":17.2},{"s":"m","i":277.7,"v":16.4},{"s":"m","i":279.2,"v":17.9},{"s":"m","i":281.6,"v":17.9},{"s":"m","i":283.6,"v":15.8},{"s":"m","i":286,"v":14.0},{"s":"m","i":288.4,"v":12.4},{"s":"m","i":289.9,"v":20.0},{"s":"m","i":290.9,"v":24.2},{"s":"m","i":292.8,"v":23.0},{"s":"m","i":294.8,"v":23.6},{"s":"m","i":296.2,"v":21.6},{"s":"m","i":297,"v":21.26}
]
},
"vconcat": [
{
 "width": 1321, "height": 362,
 "layer": [
  {"data": {"name": "candles"}, "mark": {"type": "rule", "strokeWidth": 1},
   "encoding": {
    "x": {"field": "i", "type": "quantitative", "scale": {"domain": [-0.33, 335.5], "nice": false, "zero": false}, "title": null,
          "axis": {"values": [2,20,50,67,86,104,122,140,157,187,206,224,242,260,277,296,314,332], "labels": false, "grid": true, "minExtent": 0, "maxExtent": 0, "labelPadding": 0}},
    "y": {"field": "l", "type": "quantitative", "scale": {"domain": [90.59, 95.953], "nice": false, "zero": false}, "title": null,
          "axis": {"orient": "right", "values": [91,92,93,94,95], "format": ".3f", "grid": true, "labelPadding": 10}},
    "y2": {"field": "h"},
    "color": {"condition": {"test": "datum.c >= datum.o", "value": "#089981"}, "value": "#F23645"}
   }},
  {"data": {"name": "candles"}, "mark": {"type": "bar", "width": 2.6, "strokeWidth": 0.6},
   "encoding": {
    "x": {"field": "i", "type": "quantitative", "title": null},
    "y": {"field": "o", "type": "quantitative", "title": null},
    "y2": {"field": "c"},
    "color": {"condition": {"test": "datum.c >= datum.o", "value": "#089981"}, "value": "#F23645"},
    "stroke": {"condition": {"test": "datum.c >= datum.o", "value": "#089981"}, "value": "#F23645"}
   }},
  {"data": {"values": [{"i": -0.33, "i2": 319.9, "p": 94.824}]}, "mark": {"type": "rule", "color": "#F23645", "strokeWidth": 1, "strokeDash": [1.2, 3]},
   "encoding": {
    "x": {"field": "i", "type": "quantitative", "title": null}, "x2": {"field": "i2"},
    "y": {"field": "p", "type": "quantitative", "title": null}
   }},
  {"data": {"values": [{"p": 90.647}]}, "mark": {"type": "rule", "color": "#673AB7", "strokeWidth": 4.5},
   "encoding": {"y": {"field": "p", "type": "quantitative", "title": null}}},
  {"data": {"values": [{"i": 190.5, "i2": 319.5, "p": 91.602, "p2": 94.979}]}, "mark": {"type": "rule", "color": "#1E5C1E", "strokeWidth": 3, "strokeCap": "round"},
   "encoding": {
    "x": {"field": "i", "type": "quantitative", "title": null}, "x2": {"field": "i2"},
    "y": {"field": "p", "type": "quantitative", "title": null}, "y2": {"field": "p2"}
   }},
  {"data": {"values": [{"i": 319.9, "i2": 335.5, "p": 94.975, "p2": 94.679}, {"i": 335.5, "i2": 355, "p": 94.975, "p2": 94.41}]},
   "mark": {"type": "rect", "color": "#F23645", "cornerRadius": 2},
   "encoding": {
    "x": {"field": "i", "type": "quantitative", "title": null}, "x2": {"field": "i2"},
    "y": {"field": "p", "type": "quantitative", "title": null}, "y2": {"field": "p2"}
   }},
  {"data": {"values": [{"i": 335.5, "i2": 350.8, "p": 90.901, "p2": 90.604}]},
   "mark": {"type": "rect", "color": "#673AB7", "cornerRadius": 2},
   "encoding": {
    "x": {"field": "i", "type": "quantitative", "title": null}, "x2": {"field": "i2"},
    "y": {"field": "p", "type": "quantitative", "title": null}, "y2": {"field": "p2"}
   }},
  {"data": {"values": [{"i": 336.5, "i2": 355, "p": 95.893, "p2": 95.419}]},
   "mark": {"type": "rect", "fill": "#ffffff", "stroke": "#E0E3EB", "strokeWidth": 1, "cornerRadius": 5},
   "encoding": {
    "x": {"field": "i", "type": "quantitative", "title": null}, "x2": {"field": "i2"},
    "y": {"field": "p", "type": "quantitative", "title": null}, "y2": {"field": "p2"}
   }},
  {"data": {"values": [{"t": "NZDJPY", "i": 327.6, "p": 94.827}, {"t": "94.824", "i": 344.0, "p": 94.82}, {"t": "90.647", "i": 343.3, "p": 90.753}]},
   "mark": {"type": "text", "color": "#ffffff", "font": "Open Sans", "fontSize": 13, "fontWeight": "bold", "align": "center", "baseline": "middle"},
   "encoding": {
    "x": {"field": "i", "type": "quantitative", "title": null},
    "y": {"field": "p", "type": "quantitative", "title": null},
    "text": {"field": "t"}
   }},
  {"data": {"values": [{"t": "03:50:26", "i": 345.7, "p": 94.556}]},
   "mark": {"type": "text", "color": "#FCD3D8", "font": "Open Sans", "fontSize": 13, "align": "center", "baseline": "middle"},
   "encoding": {
    "x": {"field": "i", "type": "quantitative", "title": null},
    "y": {"field": "p", "type": "quantitative", "title": null},
    "text": {"field": "t"}
   }},
  {"data": {"values": [{"t": "JPY", "i": 339.8, "p": 95.671}, {"t": "New Zealand Dollar / Japanese Yen · 4h · FXCM", "i": 2.2, "p": 95.686}, {"t": "O", "i": 85.9, "p": 95.686}, {"t": "H", "i": 102.0, "p": 95.686}, {"t": "L", "i": 118.2, "p": 95.686}, {"t": "C", "i": 133.8, "p": 95.686}]},
   "mark": {"type": "text", "color": "#131722", "font": "Open Sans", "fontSize": 14.5, "align": "left", "baseline": "middle"},
   "encoding": {
    "x": {"field": "i", "type": "quantitative", "title": null},
    "y": {"field": "p", "type": "quantitative", "title": null},
    "text": {"field": "t"}
   }},
  {"data": {"values": [{"t": "94.844", "i": 88.5, "p": 95.686}, {"t": "94.848", "i": 104.6, "p": 95.686}, {"t": "94.811", "i": 120.4, "p": 95.686}, {"t": "94.824", "i": 136.1, "p": 95.686}, {"t": "−0.020 (−0.02%)", "i": 149.8, "p": 95.686}]},
   "mark": {"type": "text", "color": "#F23645", "font": "Open Sans", "fontSize": 14.5, "align": "left", "baseline": "middle"},
   "encoding": {
    "x": {"field": "i", "type": "quantitative", "title": null},
    "y": {"field": "p", "type": "quantitative", "title": null},
    "text": {"field": "t"}
   }}
 ]
},
{
 "width": 1321, "height": 236,
 "layer": [
  {"data": {"values": [{"i": -0.33, "i2": 335.5, "v": -100, "v2": 100}]},
   "mark": {"type": "rect", "color": "#2196F3", "opacity": 0.1},
   "encoding": {
    "x": {"field": "i", "type": "quantitative", "scale": {"domain": [-0.33, 335.5], "nice": false, "zero": false}, "title": null,
          "axis": {"values": [2,20,50,67,86,104,122,140,157,187,206,224,242,260,277,296,314,332], "labels": false, "grid": true, "minExtent": 0, "maxExtent": 0, "labelPadding": 0}},
    "x2": {"field": "i2"},
    "y": {"field": "v", "type": "quantitative", "scale": {"domain": [-502.9, 355.3], "nice": false, "zero": false}, "title": null,
          "axis": {"orient": "right", "values": [200, 0, -200, -400], "format": ".2f", "grid": true, "labelPadding": 10}},
    "y2": {"field": "v2"}
   }},
  {"data": {"values": [{"v": 100}, {"v": -100}]}, "mark": {"type": "rule", "color": "#787B86", "strokeWidth": 1, "strokeDash": [5, 4]},
   "encoding": {"y": {"field": "v", "type": "quantitative", "title": null}}},
  {"data": {"values": [{"v": 0}]}, "mark": {"type": "rule", "color": "#787B86", "opacity": 0.5, "strokeWidth": 1, "strokeDash": [5, 4]},
   "encoding": {"y": {"field": "v", "type": "quantitative", "title": null}}},
  {"data": {"name": "candles"}, "mark": {"type": "bar", "width": 2.5, "color": "#2962FF"},
   "encoding": {
    "x": {"field": "i", "type": "quantitative", "title": null},
    "y": {"field": "k", "type": "quantitative", "title": null},
    "y2": {"datum": 0}
   }},
  {"data": {"name": "ma"}, "mark": {"type": "line", "color": "#FDD835", "strokeWidth": 1.3, "interpolate": "monotone"},
   "encoding": {
    "x": {"field": "i", "type": "quantitative", "title": null},
    "y": {"field": "v", "type": "quantitative", "title": null}
   }},
  {"data": {"values": [{"t": "CCI (50, hlc3)", "i": 2.4, "v": 282.5}]},
   "mark": {"type": "text", "color": "#131722", "font": "Open Sans", "fontSize": 14.5, "align": "left", "baseline": "middle"},
   "encoding": {"x": {"field": "i", "type": "quantitative", "title": null}, "y": {"field": "v", "type": "quantitative", "title": null}, "text": {"field": "t"}}},
  {"data": {"values": [{"t": "55.24", "i": 27.9, "v": 282.5}]},
   "mark": {"type": "text", "color": "#2962FF", "font": "Open Sans", "fontSize": 14.5, "align": "left", "baseline": "middle"},
   "encoding": {"x": {"field": "i", "type": "quantitative", "title": null}, "y": {"field": "v", "type": "quantitative", "title": null}, "text": {"field": "t"}}},
  {"data": {"values": [{"t": "73.30", "i": 39.6, "v": 282.5}]},
   "mark": {"type": "text", "color": "#F5CF2E", "font": "Open Sans", "fontSize": 14.5, "align": "left", "baseline": "middle"},
   "encoding": {"x": {"field": "i", "type": "quantitative", "title": null}, "y": {"field": "v", "type": "quantitative", "title": null}, "text": {"field": "t"}}}
 ]
},
{
 "width": 1321, "height": 177,
 "layer": [
  {"data": {"values": [{"t": "DMI (14, 14)", "i": 2.64, "v": 56.98}]},
   "mark": {"type": "text", "color": "#131722", "font": "Open Sans", "fontSize": 14.5, "align": "left", "baseline": "middle"},
   "encoding": {
    "x": {"field": "i", "type": "quantitative", "scale": {"domain": [-0.33, 335.5], "nice": false, "zero": false}, "title": null,
          "axis": {"values": [2,20,50,67,86,104,122,140,157,187,206,224,242,260,277,296,314,332], "grid": true, "labelPadding": 10, "labelFlush": false, "labelOverlap": false,
                   "labelExpr": "['19','24','Jul','5','9','14','17','22','26','Aug','6','11','14','19','23','27','Sep','4'][indexof([2,20,50,67,86,104,122,140,157,187,206,224,242,260,277,296,314,332], datum.value)]",
                   "labelFontWeight": {"condition": {"test": "indexof([50,187,314], datum.value) >= 0", "value": "bold"}, "value": "normal"}}},
    "y": {"field": "v", "type": "quantitative", "scale": {"domain": [-0.11, 64.25], "nice": false, "zero": false}, "title": null,
          "axis": {"orient": "right", "values": [20, 40, 60], "format": ".4f", "grid": true, "labelPadding": 10}},
    "text": {"field": "t"}
   }},
  {"data": {"values": [{"t": "18.2345", "i": 25.8, "v": 56.98}]},
   "mark": {"type": "text", "color": "#F50057", "font": "Open Sans", "fontSize": 14.5, "align": "left", "baseline": "middle"},
   "encoding": {"x": {"field": "i", "type": "quantitative", "title": null}, "y": {"field": "v", "type": "quantitative", "title": null}, "text": {"field": "t"}}},
  {"data": {"values": [{"t": "21.8185", "i": 41.1, "v": 56.98}]},
   "mark": {"type": "text", "color": "#2962FF", "font": "Open Sans", "fontSize": 14.5, "align": "left", "baseline": "middle"},
   "encoding": {"x": {"field": "i", "type": "quantitative", "title": null}, "y": {"field": "v", "type": "quantitative", "title": null}, "text": {"field": "t"}}},
  {"data": {"values": [{"t": "21.2574", "i": 56.6, "v": 56.98}]},
   "mark": {"type": "text", "color": "#FF6D00", "font": "Open Sans", "fontSize": 14.5, "align": "left", "baseline": "middle"},
   "encoding": {"x": {"field": "i", "type": "quantitative", "title": null}, "y": {"field": "v", "type": "quantitative", "title": null}, "text": {"field": "t"}}},
  {"data": {"name": "dmi"}, "mark": {"type": "line", "strokeWidth": 1.3},
   "encoding": {
    "x": {"field": "i", "type": "quantitative", "title": null},
    "y": {"field": "v", "type": "quantitative", "title": null},
    "color": {"field": "s", "type": "nominal", "scale": {"domain": ["a", "p", "m"], "range": ["#F50057", "#2962FF", "#FF6D00"]}, "legend": null}
   }}
 ]
}
]
}
